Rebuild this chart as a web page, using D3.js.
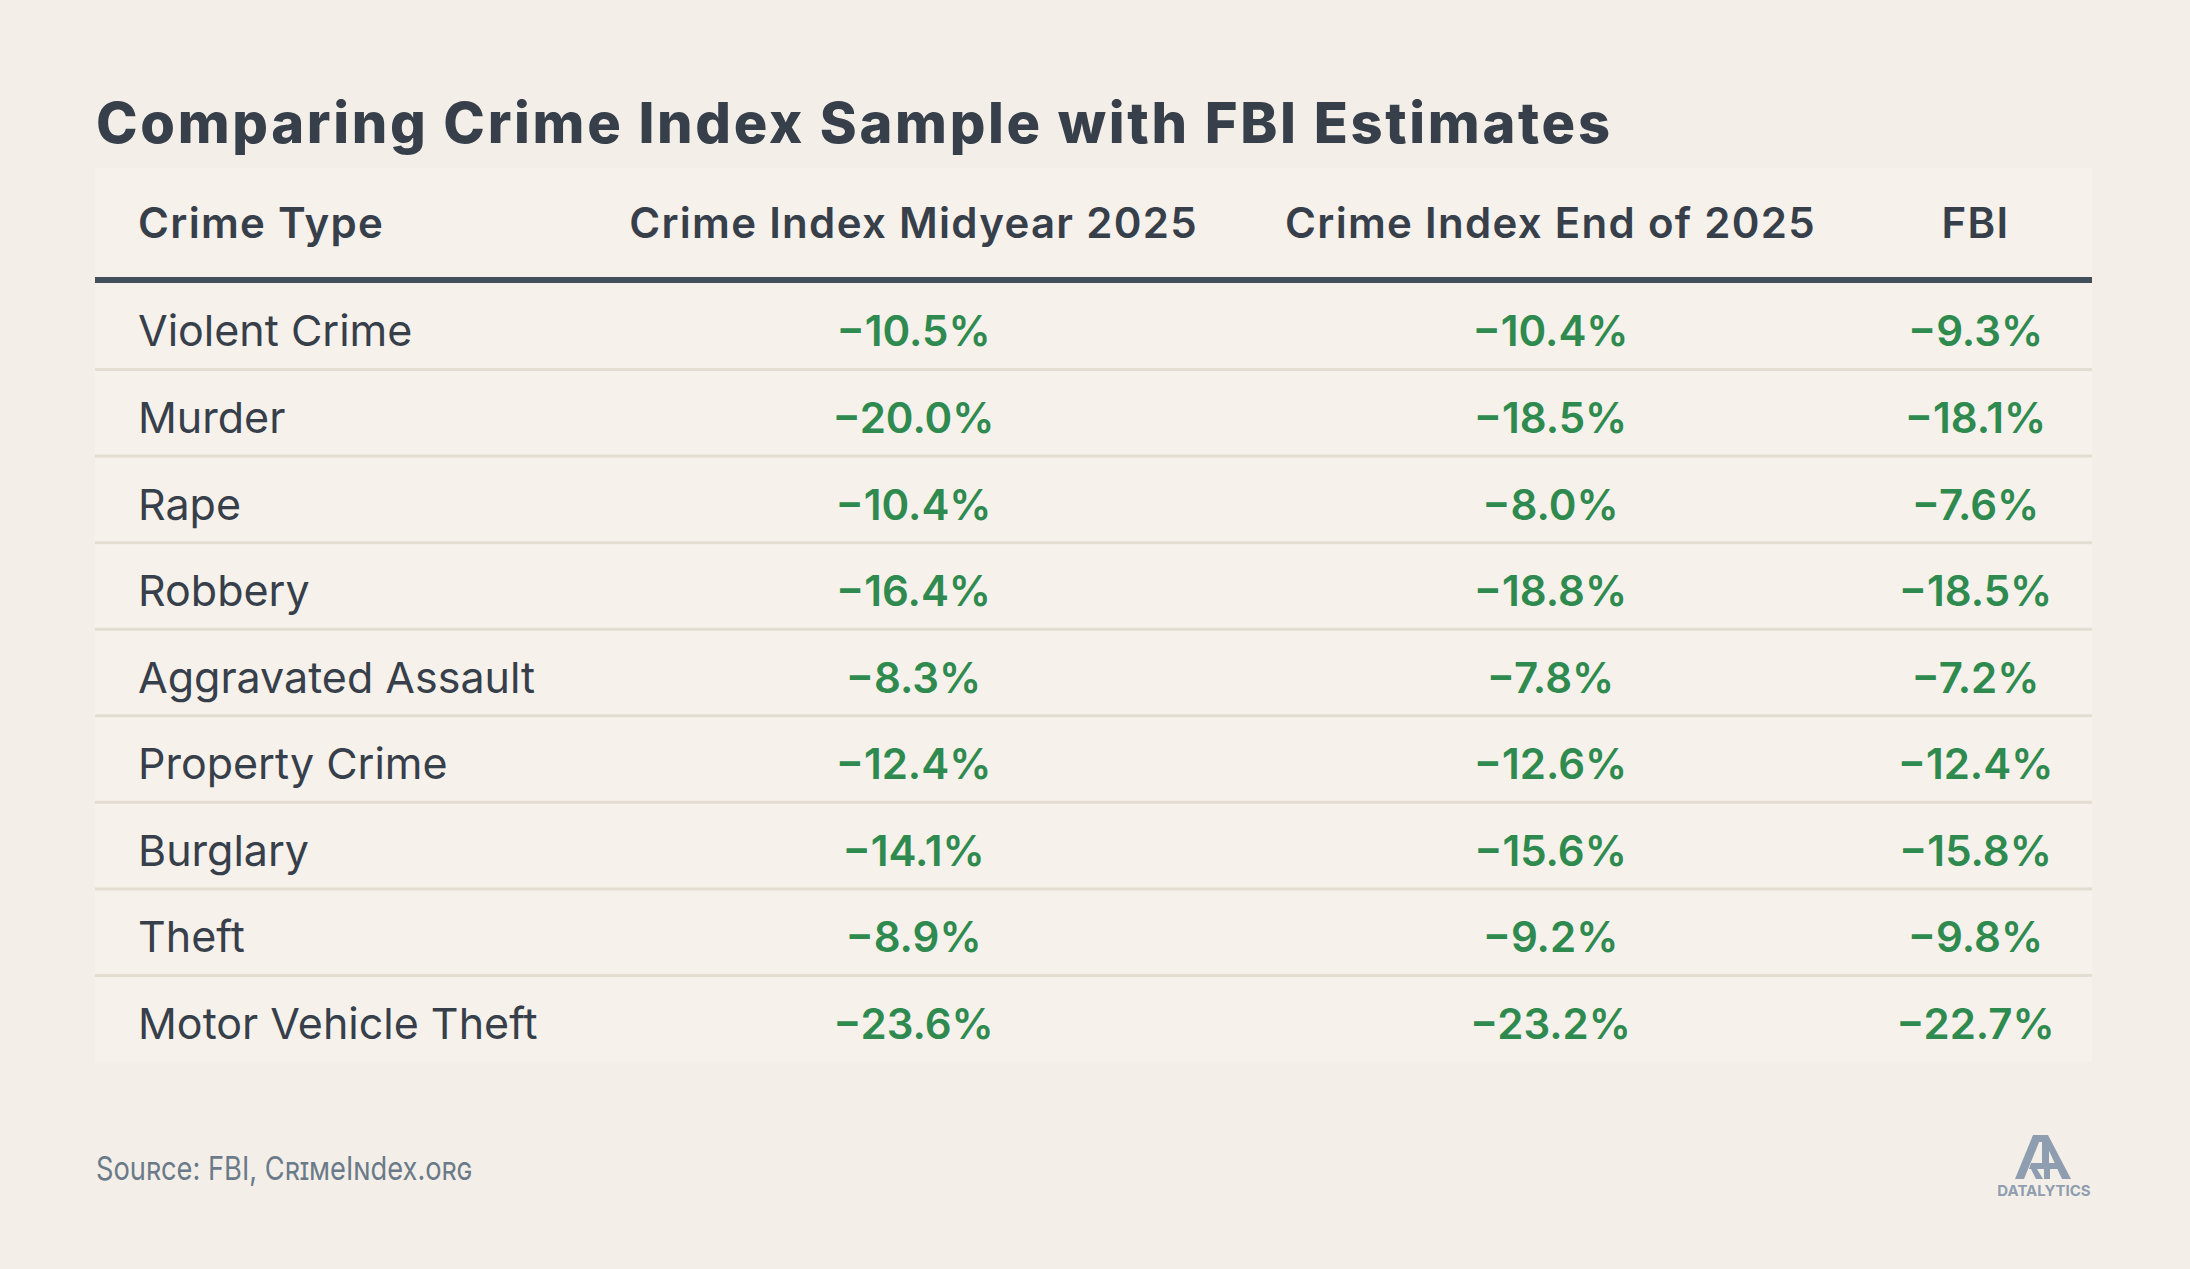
<!DOCTYPE html>
<html lang="en">

<head>
    <meta charset="UTF-8">
    <script src="https://cdn.jsdelivr.net/npm/d3@7/dist/d3.min.js" charset="utf-8"></script>
    <title>Comparing Crime Index Sample with FBI Estimates</title>
    <style>
        body { margin: 0; background: #f3efe8; }
        svg { display: block; font-family: "Inter", "DejaVu Sans", sans-serif; }
    </style>
</head>

<body>
    <script>
        // table content
        var crimeTypes = ["Violent Crime", "Murder", "Rape", "Robbery", "Aggravated Assault",
            "Property Crime", "Burglary", "Theft", "Motor Vehicle Theft"];
        var midyear2025 = [-10.5, -20.0, -10.4, -16.4, -8.3, -12.4, -14.1, -8.9, -23.6];
        var endOf2025 = [-10.4, -18.5, -8.0, -18.8, -7.8, -12.6, -15.6, -9.2, -23.2];
        var fbiEstimates = [-9.3, -18.1, -7.6, -18.5, -7.2, -12.4, -15.8, -9.8, -22.7];
        var columnHeaders = ["Crime Type", "Crime Index Midyear 2025", "Crime Index End of 2025", "FBI"];

        var width = 2190;
        var height = 1269;
        var tableLeft = 95, tableRight = 2092;
        var headTop = 168, ruleY = 280, bodyTop = 283, bodyBottom = 1062;
        // column edges of the four columns
        var colEdges = [tableLeft, 585, 1242, 1859, tableRight];

        var rows = crimeTypes.map(function (d, i) {
            return { type: d, values: [midyear2025[i], endOf2025[i], fbiEstimates[i]] };
        });

        var fmt = function (v) { return "\u2212" + Math.abs(v).toFixed(1) + "%"; };

        var y = d3.scaleBand().domain(crimeTypes).range([bodyTop, bodyBottom]);
        var colIdx = d3.range(columnHeaders.length);
        var colLeft = d3.scaleOrdinal().domain(colIdx).range(colEdges.slice(0, 4));
        var colCenter = d3.scaleOrdinal().domain(colIdx).range(colIdx.map(function (i) {
            return (colEdges[i] + colEdges[i + 1]) / 2;
        }));

        var svg = d3.select("body").append("svg").attr("width", width).attr("height", height);

        svg.append("rect").attr("width", width).attr("height", height).attr("fill", "#f3efe8");

        // title, spaced out to the width of the original wider face
        var title = svg.append("text").attr("x", 96).attr("y", 143)
            .attr("font-size", 56).attr("font-weight", 800).attr("fill", "#363f4a")
            .text("Comparing Crime Index Sample with FBI Estimates");
        var tLen = title.node().getComputedTextLength();
        var tChars = title.text().length;
        title.attr("letter-spacing", ((1514 - tLen) / (tChars - 1)).toFixed(2));

        // table panel
        svg.append("rect").attr("x", tableLeft).attr("y", headTop)
            .attr("width", tableRight - tableLeft).attr("height", bodyBottom - headTop)
            .attr("fill", "#f6f1ea");

        // header
        svg.selectAll("text.head").data(colIdx).enter().append("text").attr("class", "head")
            .attr("x", function (i) { return i === 0 ? colLeft(i) + 43 : colCenter(i); })
            .attr("y", 238)
            .attr("text-anchor", function (i) { return i === 0 ? "start" : "middle"; })
            .attr("font-size", 42).attr("font-weight", 600).attr("fill", "#363f4a")
            .attr("letter-spacing", 1.3)
            .text(function (i) { return columnHeaders[i]; });

        svg.append("rect").attr("x", tableLeft).attr("y", ruleY - 3)
            .attr("width", tableRight - tableLeft).attr("height", 6).attr("fill", "#434f5b");

        // row separators (none under last row)
        svg.selectAll("rect.sep").data(crimeTypes.slice(0, -1)).enter().append("rect").attr("class", "sep")
            .attr("x", tableLeft).attr("width", tableRight - tableLeft)
            .attr("y", function (d) { return y(d) + y.bandwidth() - 1.5; })
            .attr("height", 3).attr("fill", "#e3ddd1");

        var row = svg.selectAll("g.row").data(rows).enter().append("g").attr("class", "row")
            .attr("transform", function (d) { return "translate(0," + (y(d.type) + y.bandwidth() / 2) + ")"; });

        row.append("text")
            .attr("x", colLeft(0) + 43).attr("dy", "0.47em")
            .attr("font-size", 43).attr("fill", "#363f4a")
            .text(function (d) { return d.type; });

        row.selectAll("text.val").data(function (d) { return d.values; }).enter().append("text").attr("class", "val")
            .attr("x", function (v, i) { return colCenter(i + 1); }).attr("dy", "0.48em")
            .attr("text-anchor", "middle")
            .attr("font-size", 42).attr("font-weight", 600).attr("fill", "#2f8a4f")
            .text(fmt);

        // source
        svg.append("text").attr("x", 96).attr("y", 1180)
            .attr("font-size", 33).attr("fill", "#6b7a89")
            .attr("textLength", 376).attr("lengthAdjust", "spacingAndGlyphs")
            .style("font-variant", "small-caps")
            .text("Source: FBI, CrimeIndex.org");

        // logo
        var logo = svg.append("g").attr("fill", "#8f9db0");
        logo.append("path").attr("d", "M2015,1179 L2033,1135 L2042,1135 L2024,1179 Z");
        logo.append("path").attr("d", "M2033,1135 L2048,1135 L2071,1179 L2062,1179 L2045,1142 L2036,1142 Z");
        logo.append("path").attr("d", "M2042,1140 L2049,1140 L2049,1163 L2042,1163 Z");
        logo.append("path").attr("d", "M2031,1163 L2062,1163 L2064,1169 L2029,1169 Z");
        logo.append("path").attr("d", "M2031,1169 L2037,1169 L2043,1179 L2036,1179 Z");
        logo.append("path").attr("d", "M2044,1169 L2050,1169 L2050,1179 L2044,1179 Z");
        logo.append("text").attr("x", 2044).attr("y", 1196).attr("text-anchor", "middle")
            .attr("font-size", 15).attr("font-weight", 700).text("DATALYTICS");
    </script>
</body>

</html>
